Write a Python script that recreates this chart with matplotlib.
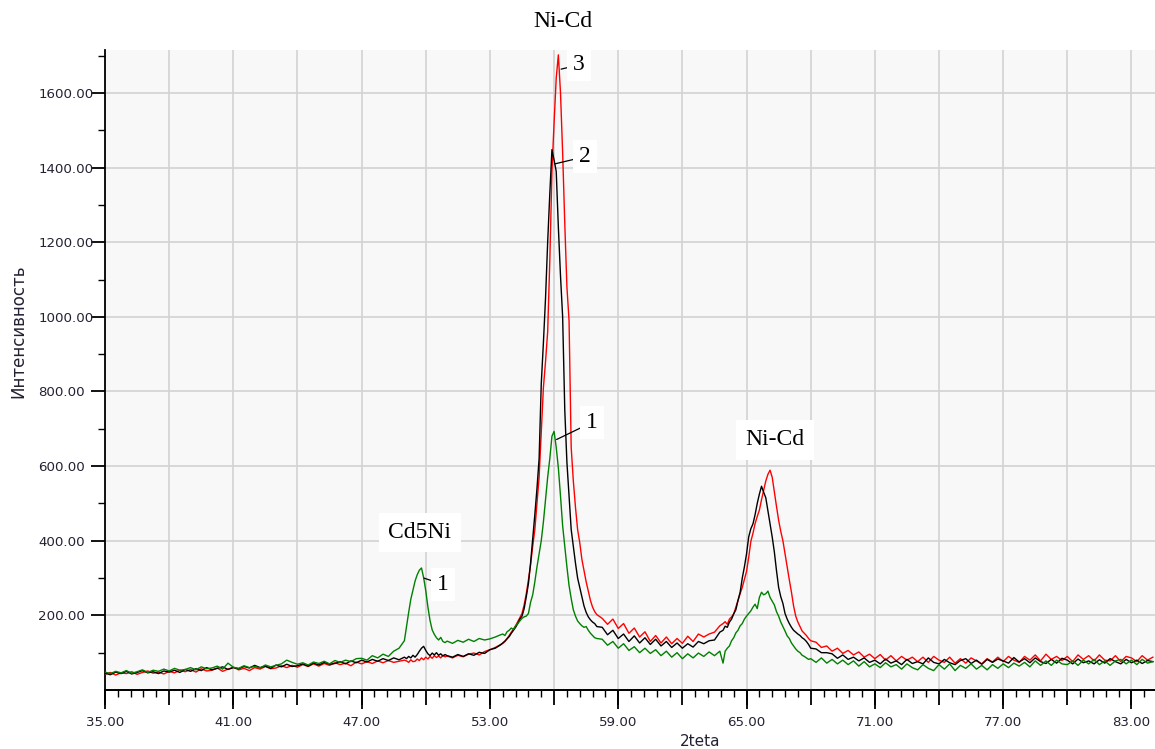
import matplotlib
matplotlib.use("Agg")
import matplotlib.pyplot as plt
import numpy as np
from matplotlib.ticker import FixedLocator, FormatStrFormatter

# sampling grid (finer near the peaks)
two_theta = np.concatenate([
    np.linspace(35.0, 49.0, 57),
    np.linspace(49.1, 50.9, 19),
    np.linspace(51.0, 53.5, 11),
    np.linspace(53.6, 58.0, 45),
    np.linspace(58.25, 63.75, 23),
    np.linspace(63.9, 68.0, 42),
    np.linspace(68.25, 84.0, 64),
])

# curve 2 (black)
black = [
    45, 41, 48, 44, 50, 43, 47, 52, 46, 49, 44, 51, 48, 53, 47, 55,
    50, 57, 52, 60, 54, 58, 62, 55, 60, 57, 63, 59, 66, 60, 64, 58,
    67, 62, 69, 63, 65, 70, 64, 72, 67, 74, 69, 71, 76, 70, 78, 73,
    80, 75, 82, 77, 84, 79, 86, 81, 88,
    84, 90, 86, 93, 88, 95, 104, 112, 117, 106, 97, 92, 99, 94, 100, 93, 97, 91, 95,
    92, 88, 95, 90, 97, 93, 101, 98, 108, 112, 121,
    126, 131, 137, 143, 152, 160, 168, 178, 190, 198,
    218, 250, 285, 340, 405, 470, 540, 620, 820, 930,
    1050, 1200, 1330, 1448, 1420, 1390, 1240, 1110, 1000, 750,
    610, 520, 430, 385, 340, 300, 275, 250, 225, 208,
    196, 188, 182, 178, 170,
    168, 148, 160, 138, 150, 130, 145, 126, 140, 122, 136, 118,
    130, 114, 126, 112, 124, 115, 130, 124, 132, 134, 155,
    160, 171, 168, 182, 190, 204, 215, 240, 262, 300, 330,
    365, 410, 432, 445, 470, 500, 525, 546, 530, 515,
    480, 445, 410, 370, 320, 275, 250, 232, 205, 190,
    178, 168, 160, 155, 150, 146, 140, 136, 130, 122, 112,
    110, 100, 100,
    97, 85, 94, 82, 88, 78, 86, 74, 80, 70, 83, 72, 78, 68, 82, 71,
    76, 70, 86, 74, 70, 82, 73, 68, 79, 84, 71, 80, 69, 82, 74, 83,
    78, 72, 87, 75, 84, 73, 86, 76, 71, 82, 72, 85, 80, 70, 83, 73,
    78, 70, 81, 72, 84, 76, 70, 82, 73, 80, 71, 79, 76,
]

# curve 3 (red)
red = [
    42, 47, 40, 46, 44, 49, 42, 47, 51, 45, 48, 43, 50, 46, 53, 49,
    55, 48, 57, 51, 53, 59, 50, 56, 61, 54, 58, 52, 60, 56, 63, 57,
    59, 65, 60, 66, 61, 68, 63, 70, 64, 71, 66, 73, 68, 72, 65, 75,
    70, 76, 71, 78, 73, 79, 74, 77, 80,
    78, 74, 81, 76, 77, 83, 79, 86, 81, 88, 83, 90, 85, 92, 87, 91, 86, 93, 89,
    91, 86, 93, 89, 96, 99, 94, 103, 108, 114, 122,
    125, 130, 138, 146, 155, 163, 172, 183, 194, 205,
    228, 258, 295, 335, 385, 430, 500, 570, 690, 810,
    880, 960, 1150, 1390, 1520, 1640, 1702, 1600, 1440, 1250,
    1080, 990, 650, 560, 490, 430, 395, 350, 320, 290,
    265, 240, 222, 210, 202,
    192, 176, 190, 165, 178, 152, 166, 142, 156, 130, 146, 126,
    142, 124, 138, 125, 144, 130, 150, 142, 150, 155, 172,
    178, 183, 176, 190, 196, 204, 222, 240, 258, 275, 296,
    318, 355, 398, 420, 446, 465, 482, 510, 535, 560,
    578, 589, 570, 530, 492, 455, 425, 400, 365, 330,
    295, 262, 225, 198, 182, 170, 158, 152, 146, 138, 132,
    128, 114, 118,
    104, 112, 98, 106, 94, 102, 88, 96, 84, 95, 80, 92, 78, 90, 80, 88,
    76, 88, 74, 90, 80, 74, 88, 72, 84, 72, 86, 78, 70, 84, 75, 88,
    76, 90, 80, 74, 90, 80, 94, 78, 96, 82, 90, 79, 90, 76, 94, 82,
    92, 78, 94, 80, 78, 92, 76, 90, 86, 76, 92, 80, 88,
]

# curve 1 (green)
green = [
    48, 44, 50, 46, 52, 45, 49, 54, 47, 53, 50, 56, 51, 58, 53, 55,
    60, 54, 62, 57, 59, 64, 56, 72, 61, 58, 65, 60, 63, 59, 67, 62,
    66, 70, 80, 74, 69, 73, 67, 75, 71, 77, 70, 79, 74, 80, 76, 84,
    85, 80, 92, 86, 96, 90, 104, 112, 132,
    170, 208, 243, 268, 292, 309, 321, 327, 301, 266, 222, 186, 161, 149, 140, 134, 141, 130, 127,
    131, 125, 133, 128, 136, 130, 138, 134, 137, 142, 148,
    150, 146, 156, 160, 166, 162, 172, 178, 185, 192,
    196, 198, 205, 235, 255, 290, 330, 365, 400, 450,
    510, 570, 620, 680, 693, 650, 595, 520, 440, 385,
    330, 280, 245, 215, 198, 185, 178, 172, 168, 170,
    160, 152, 146, 140, 138,
    136, 120, 130, 112, 124, 106, 116, 100, 112, 98, 108, 92,
    104, 88, 100, 84, 97, 86, 99, 90, 102, 92, 104,
    72, 104, 112, 118, 132, 140, 153, 160, 172, 178, 190,
    198, 205, 212, 222, 230, 218, 248, 262, 255, 258,
    265, 248, 238, 228, 210, 198, 182, 170, 158, 145,
    138, 126, 118, 110, 104, 100, 93, 90, 86, 82, 84,
    74, 86, 72,
    82, 70, 80, 68, 78, 64, 76, 62, 70, 60, 73, 62, 68, 56, 70, 60,
    54, 68, 58, 52, 68, 56, 70, 52, 66, 58, 70, 56, 66, 54, 68, 58,
    70, 60, 72, 64, 74, 62, 78, 66, 78, 66, 80, 70, 68, 78, 66, 80,
    70, 82, 68, 78, 66, 78, 82, 70, 80, 68, 82, 72, 76,
]

black = np.array(black, dtype=float)
red = np.array(red, dtype=float)
green = np.array(green, dtype=float)
print(len(two_theta), len(black), len(red), len(green))

fig = plt.figure(figsize=(11.55, 7.49), dpi=100)
ax = fig.add_axes([105 / 1155, 1 - 690 / 749, 1 - 105 / 1155, 640 / 749])
ax.set_facecolor("#f8f8f8")

ax.plot(two_theta, red, color="#ff0000", lw=1.0, zorder=3)
ax.plot(two_theta, black, color="#000000", lw=1.0, zorder=3)
ax.plot(two_theta, green, color="#008000", lw=1.0, zorder=3)

ax.set_xlim(35, 84.1)
ax.set_ylim(0, 1715)

for s in ["top", "right"]:
    ax.spines[s].set_visible(False)
for s in ["left", "bottom"]:
    ax.spines[s].set_linewidth(1.3)

# x ticks: grid every 3, minor every 0.6, labels every 6
ax.xaxis.set_major_locator(FixedLocator(np.arange(35, 84.2, 3)))
ax.xaxis.set_minor_locator(FixedLocator(np.arange(35, 84.2, 0.6)))
ax.tick_params(axis="x", which="major", length=11, width=1.3, labelbottom=False)
ax.tick_params(axis="x", which="minor", length=5, width=1.0)
sec = ax.secondary_xaxis("bottom")
sec.set_xticks(np.arange(35, 84, 6))
sec.xaxis.set_major_formatter(FormatStrFormatter("%.2f"))
sec.tick_params(length=14, width=1.3, pad=5, labelsize=9.6, labelcolor="#222233")
sec.spines["bottom"].set_linewidth(1.3)

# y ticks
ax.yaxis.set_major_locator(FixedLocator(np.arange(200, 1700, 200)))
ax.yaxis.set_minor_locator(FixedLocator(np.arange(100, 1800, 100)))
ax.yaxis.set_major_formatter(FormatStrFormatter("%.2f"))
ax.tick_params(axis="y", which="major", length=10, width=1.3, pad=38,
               labelsize=9.6, labelcolor="#222233")
ax.tick_params(axis="y", which="minor", length=5, width=1.0)
plt.setp(ax.get_yticklabels(), ha="left")

ax.grid(True, which="major", color="#d2d2d2", lw=1.2, zorder=0)
ax.set_axisbelow(True)

fig.text(18 / 1155, 1 - 331 / 749, "Интенсивность", rotation=90,
         ha="center", va="center", fontsize=12, color="#222233")
fig.text(700 / 1155, 1 - 741 / 749, "2teta", ha="center", va="center",
         fontsize=11, color="#222233")

serif = "Liberation Serif"
box = dict(boxstyle="square,pad=0.25", fc="white", ec="none")
leader = dict(arrowstyle="-", color="black", lw=0.9, shrinkA=0, shrinkB=2)

i_red = int(np.argmax(red))
i_black = int(np.argmax(black))
i_green = int(np.argmax(green))
low = two_theta < 52
i_cd5 = int(np.argmax(np.where(low, green, 0)))

ax.text(56.41, 1791, "Ni-Cd", family=serif, fontsize=17, ha="center",
        va="center", clip_on=False)
ax.annotate("3", xy=(two_theta[i_red], red[i_red] - 40), xytext=(57.16, 1675),
            family=serif, fontsize=17, ha="center", va="center", bbox=box,
            arrowprops=leader, annotation_clip=False)
ax.annotate("2", xy=(two_theta[i_black], black[i_black] - 40), xytext=(57.44, 1429),
            family=serif, fontsize=17, ha="center", va="center", bbox=box,
            arrowprops=leader)
ax.annotate("1", xy=(two_theta[i_green], green[i_green] - 25), xytext=(57.77, 717),
            family=serif, fontsize=17, ha="center", va="center", bbox=box,
            arrowprops=leader)
ax.text(66.32, 671, "Ni-Cd", family=serif, fontsize=17, ha="center",
        va="center", bbox=dict(boxstyle="square,pad=0.4", fc="white", ec="none"))
ax.text(49.73, 422, "Cd5Ni", family=serif, fontsize=17, ha="center",
        va="center", bbox=dict(boxstyle="square,pad=0.4", fc="white", ec="none"))
ax.annotate("1", xy=(two_theta[i_cd5], green[i_cd5] - 25), xytext=(50.8, 283),
            family=serif, fontsize=17, ha="center", va="center", bbox=box,
            arrowprops=leader)

fig.savefig("out.png", dpi=100)
